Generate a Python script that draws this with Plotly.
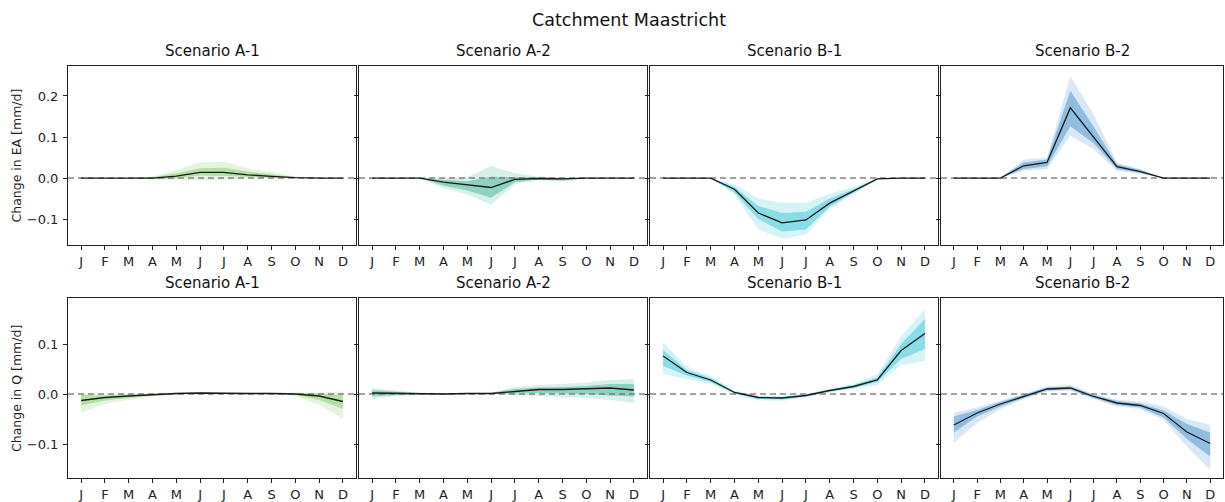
import plotly.graph_objects as go

months = ["J", "F", "M", "A", "M", "J", "J", "A", "S", "O", "N", "D"]
scenarios = ["Scenario A-1", "Scenario A-2", "Scenario B-1", "Scenario B-2"]
row_labels = ["Change in EA [mm/d]", "Change in Q [mm/d]"]
base_colors = ["110,195,80", "40,170,135", "30,190,210", "40,130,200"]

# ---- EA (top row) ----
ea_a1_med = [0, 0, 0, 0, 0.005, 0.014, 0.014, 0.008, 0.004, 0.001, 0, 0]
ea_a1_in_lo = [0, 0, 0, -0.002, 0.000, 0.006, 0.005, 0.003, 0.001, 0, 0, 0]
ea_a1_in_hi = [0, 0, 0, 0.002, 0.012, 0.024, 0.025, 0.016, 0.009, 0.002, 0, 0]
ea_a1_out_lo = [0, 0, 0, -0.004, -0.005, -0.005, -0.004, -0.001, 0, 0, 0, 0]
ea_a1_out_hi = [0, 0, 0, 0.004, 0.020, 0.038, 0.040, 0.024, 0.015, 0.004, 0, 0]

ea_a2_med = [0, 0, 0, -0.010, -0.017, -0.023, -0.003, -0.001, -0.002, 0, 0, 0]
ea_a2_in_lo = [0, 0, 0, -0.018, -0.030, -0.048, -0.010, -0.003, -0.006, 0, 0, 0]
ea_a2_in_hi = [0, 0, 0, -0.004, -0.008, 0.003, 0.002, 0.001, 0.000, 0, 0, 0]
ea_a2_out_lo = [0, 0, 0, -0.025, -0.040, -0.065, -0.015, -0.005, -0.008, -0.001, 0, 0]
ea_a2_out_hi = [0, 0, 0, 0.000, 0.002, 0.030, 0.012, 0.004, 0.001, 0.001, 0, 0]

ea_b1_med = [0, 0, 0, -0.027, -0.085, -0.109, -0.102, -0.061, -0.031, -0.002, 0, 0]
ea_b1_in_lo = [0, 0, 0, -0.035, -0.100, -0.130, -0.125, -0.070, -0.035, -0.003, 0, 0]
ea_b1_in_hi = [0, 0, 0, -0.022, -0.068, -0.085, -0.082, -0.050, -0.027, -0.001, 0, 0]
ea_b1_out_lo = [0, 0, 0, -0.040, -0.125, -0.148, -0.138, -0.075, -0.040, -0.004, 0, 0]
ea_b1_out_hi = [0, 0, 0, -0.015, -0.050, -0.060, -0.060, -0.038, -0.022, 0.000, 0, 0]

ea_b2_med = [0, 0, 0, 0.030, 0.038, 0.171, 0.100, 0.028, 0.016, 0, 0, 0]
ea_b2_in_lo = [0, 0, 0, 0.022, 0.028, 0.126, 0.085, 0.022, 0.013, 0, 0, 0]
ea_b2_in_hi = [0, 0, 0, 0.038, 0.045, 0.213, 0.125, 0.033, 0.020, 0, 0, 0]
ea_b2_out_lo = [0, 0, 0, 0.018, 0.022, 0.103, 0.070, 0.018, 0.010, 0, 0, 0]
ea_b2_out_hi = [0, 0, 0, 0.045, 0.050, 0.248, 0.155, 0.037, 0.022, 0.001, 0, 0]

# ---- Q (bottom row) ----
q_a1_med = [-0.013, -0.007, -0.004, -0.001, 0.001, 0.002, 0.001, 0.001, 0.001, 0.000, -0.004, -0.015]
q_a1_in_lo = [-0.023, -0.013, -0.008, -0.003, 0.000, 0.000, 0.000, 0.000, 0.000, -0.002, -0.012, -0.030]
q_a1_in_hi = [-0.002, -0.003, -0.001, 0.000, 0.002, 0.003, 0.002, 0.002, 0.002, 0.001, 0.001, -0.002]
q_a1_out_lo = [-0.037, -0.020, -0.012, -0.005, -0.001, -0.001, -0.001, -0.001, -0.001, -0.004, -0.022, -0.050]
q_a1_out_hi = [0.000, 0.000, 0.000, 0.001, 0.003, 0.004, 0.003, 0.003, 0.003, 0.003, 0.003, 0.005]

q_a2_med = [0.002, 0.001, 0.000, 0.000, 0.001, 0.001, 0.005, 0.009, 0.009, 0.010, 0.012, 0.008]
q_a2_in_lo = [-0.005, -0.002, -0.001, 0.000, 0.000, 0.000, 0.001, 0.002, 0.001, 0.000, -0.003, -0.005]
q_a2_in_hi = [0.008, 0.004, 0.001, 0.001, 0.002, 0.002, 0.010, 0.013, 0.014, 0.016, 0.020, 0.020]
q_a2_out_lo = [-0.010, -0.004, -0.002, -0.001, 0.000, 0.000, -0.002, -0.004, -0.006, -0.008, -0.012, -0.018]
q_a2_out_hi = [0.012, 0.007, 0.002, 0.001, 0.002, 0.003, 0.014, 0.018, 0.020, 0.023, 0.028, 0.030]

q_b1_med = [0.076, 0.043, 0.028, 0.003, -0.007, -0.008, -0.003, 0.007, 0.015, 0.028, 0.087, 0.121]
q_b1_in_lo = [0.056, 0.037, 0.024, 0.001, -0.010, -0.011, -0.005, 0.005, 0.012, 0.024, 0.070, 0.090]
q_b1_in_hi = [0.088, 0.048, 0.032, 0.005, -0.005, -0.006, -0.001, 0.009, 0.018, 0.033, 0.100, 0.150]
q_b1_out_lo = [0.040, 0.030, 0.020, -0.001, -0.013, -0.014, -0.007, 0.003, 0.010, 0.018, 0.058, 0.066]
q_b1_out_hi = [0.103, 0.055, 0.036, 0.007, -0.003, -0.004, 0.001, 0.011, 0.020, 0.040, 0.115, 0.170]

q_b2_med = [-0.062, -0.038, -0.020, -0.005, 0.010, 0.012, -0.005, -0.018, -0.023, -0.039, -0.076, -0.099]
q_b2_in_lo = [-0.077, -0.045, -0.025, -0.008, 0.007, 0.009, -0.008, -0.022, -0.027, -0.047, -0.090, -0.125]
q_b2_in_hi = [-0.045, -0.032, -0.016, -0.002, 0.013, 0.015, -0.002, -0.014, -0.019, -0.033, -0.060, -0.077]
q_b2_out_lo = [-0.097, -0.058, -0.030, -0.010, 0.005, 0.007, -0.010, -0.025, -0.030, -0.052, -0.105, -0.152]
q_b2_out_hi = [-0.038, -0.027, -0.013, 0.000, 0.015, 0.018, 0.000, -0.011, -0.015, -0.025, -0.050, -0.062]

ea_ticks = [-0.1, 0.0, 0.1, 0.2]
q_ticks = [-0.1, 0.0, 0.1]

panels = [
    [
        (ea_a1_med, ea_a1_in_lo, ea_a1_in_hi, ea_a1_out_lo, ea_a1_out_hi),
        (ea_a2_med, ea_a2_in_lo, ea_a2_in_hi, ea_a2_out_lo, ea_a2_out_hi),
        (ea_b1_med, ea_b1_in_lo, ea_b1_in_hi, ea_b1_out_lo, ea_b1_out_hi),
        (ea_b2_med, ea_b2_in_lo, ea_b2_in_hi, ea_b2_out_lo, ea_b2_out_hi),
    ],
    [
        (q_a1_med, q_a1_in_lo, q_a1_in_hi, q_a1_out_lo, q_a1_out_hi),
        (q_a2_med, q_a2_in_lo, q_a2_in_hi, q_a2_out_lo, q_a2_out_hi),
        (q_b1_med, q_b1_in_lo, q_b1_in_hi, q_b1_out_lo, q_b1_out_hi),
        (q_b2_med, q_b2_in_lo, q_b2_in_hi, q_b2_out_lo, q_b2_out_hi),
    ],
]
row_ranges = [[-0.163, 0.273], [-0.168, 0.192]]
row_ticks = [ea_ticks, q_ticks]

W, H = 1225, 502
ml, mr, mt, mb = 68, 2, 66, 24
pw = W - ml - mr
ph = H - mt - mb
col_px = [(68, 356), (359, 647), (650, 938), (941, 1223)]
row_px = [(66, 245), (298, 478)]

def xd(a, b):
    return [(a - ml) / pw, (b - ml) / pw]

def yd(a, b):
    return [(H - mb - b) / ph, (H - mb - a) / ph]

fig = go.Figure()
layout = {}
annotations = []
x = list(range(12))
font_family = "DejaVu Sans"

for r in range(2):
    for c in range(4):
        idx = r * 4 + c + 1
        xa = "x" if idx == 1 else f"x{idx}"
        ya = "y" if idx == 1 else f"y{idx}"
        med, ilo, ihi, olo, ohi = panels[r][c]
        col = base_colors[c]
        fig.add_trace(go.Scatter(x=x, y=olo, mode="lines", line=dict(width=0), xaxis=xa, yaxis=ya,
                                 showlegend=False, hoverinfo="skip"))
        fig.add_trace(go.Scatter(x=x, y=ohi, mode="lines", line=dict(width=0), fill="tonexty",
                                 fillcolor=f"rgba({col},0.18)", xaxis=xa, yaxis=ya,
                                 showlegend=False, hoverinfo="skip"))
        fig.add_trace(go.Scatter(x=x, y=ilo, mode="lines", line=dict(width=0), xaxis=xa, yaxis=ya,
                                 showlegend=False, hoverinfo="skip"))
        fig.add_trace(go.Scatter(x=x, y=ihi, mode="lines", line=dict(width=0), fill="tonexty",
                                 fillcolor=f"rgba({col},0.42)", xaxis=xa, yaxis=ya,
                                 showlegend=False, hoverinfo="skip"))
        fig.add_trace(go.Scatter(x=[-0.55, 11.55], y=[0, 0], mode="lines",
                                 line=dict(color="rgba(110,110,110,0.85)", width=1.5, dash="6px,4px"),
                                 xaxis=xa, yaxis=ya, showlegend=False, hoverinfo="skip"))
        fig.add_trace(go.Scatter(x=x, y=med, mode="lines", line=dict(color="#1a1a1a", width=1.3),
                                 xaxis=xa, yaxis=ya, showlegend=False))
        xkey = "xaxis" if idx == 1 else f"xaxis{idx}"
        ykey = "yaxis" if idx == 1 else f"yaxis{idx}"
        layout[xkey] = dict(
            domain=xd(*col_px[c]), anchor=ya, range=[-0.55, 11.55], automargin=False,
            tickvals=x, ticktext=months, ticks="outside", ticklen=4, tickcolor="#222",
            showline=True, linecolor="#222", linewidth=1, mirror=True, showgrid=False,
            zeroline=False, tickfont=dict(size=13, color="#222", family=font_family),
        )
        layout[ykey] = dict(
            domain=yd(*row_px[r]), anchor=xa, range=row_ranges[r], automargin=False,
            tickvals=row_ticks[r], tickformat=".1f", ticks="outside", ticklen=4, tickcolor="#222",
            ticklabelstandoff=2,
            showticklabels=(c == 0),
            showline=True, linecolor="#222", linewidth=1, mirror=True, showgrid=False,
            zeroline=False, tickfont=dict(size=13, color="#222", family=font_family),
        )
        cx = ((col_px[c][0] + col_px[c][1]) / 2 - ml) / pw
        ty = (H - mb - row_px[r][0] + 4) / ph
        annotations.append(dict(text=scenarios[c], x=cx, y=ty, xref="paper", yref="paper",
                                xanchor="center", yanchor="bottom", showarrow=False,
                                font=dict(size=15, color="#111", family=font_family)))
    cy = (H - mb - (row_px[r][0] + row_px[r][1]) / 2) / ph
    annotations.append(dict(text=row_labels[r], x=(16 - ml) / pw, y=cy, xref="paper", yref="paper",
                            xanchor="center", yanchor="middle", textangle=-90, showarrow=False,
                            font=dict(size=12.5, color="#222", family=font_family)))

fig.update_layout(
    **layout,
    width=W, height=H,
    margin=dict(l=ml, r=mr, t=mt, b=mb, autoexpand=False),
    paper_bgcolor="white", plot_bgcolor="white",
    title=dict(text="Catchment Maastricht", x=629 / W, xanchor="center", y=1 - 20 / H, yanchor="middle",
               font=dict(size=17.5, color="#111", family=font_family)),
    annotations=annotations,
    font=dict(family=font_family),
)

fig.write_html("out.html", config={"displayModeBar": False},
               post_script="document.body.style.margin='0';document.body.style.overflow='hidden';")
